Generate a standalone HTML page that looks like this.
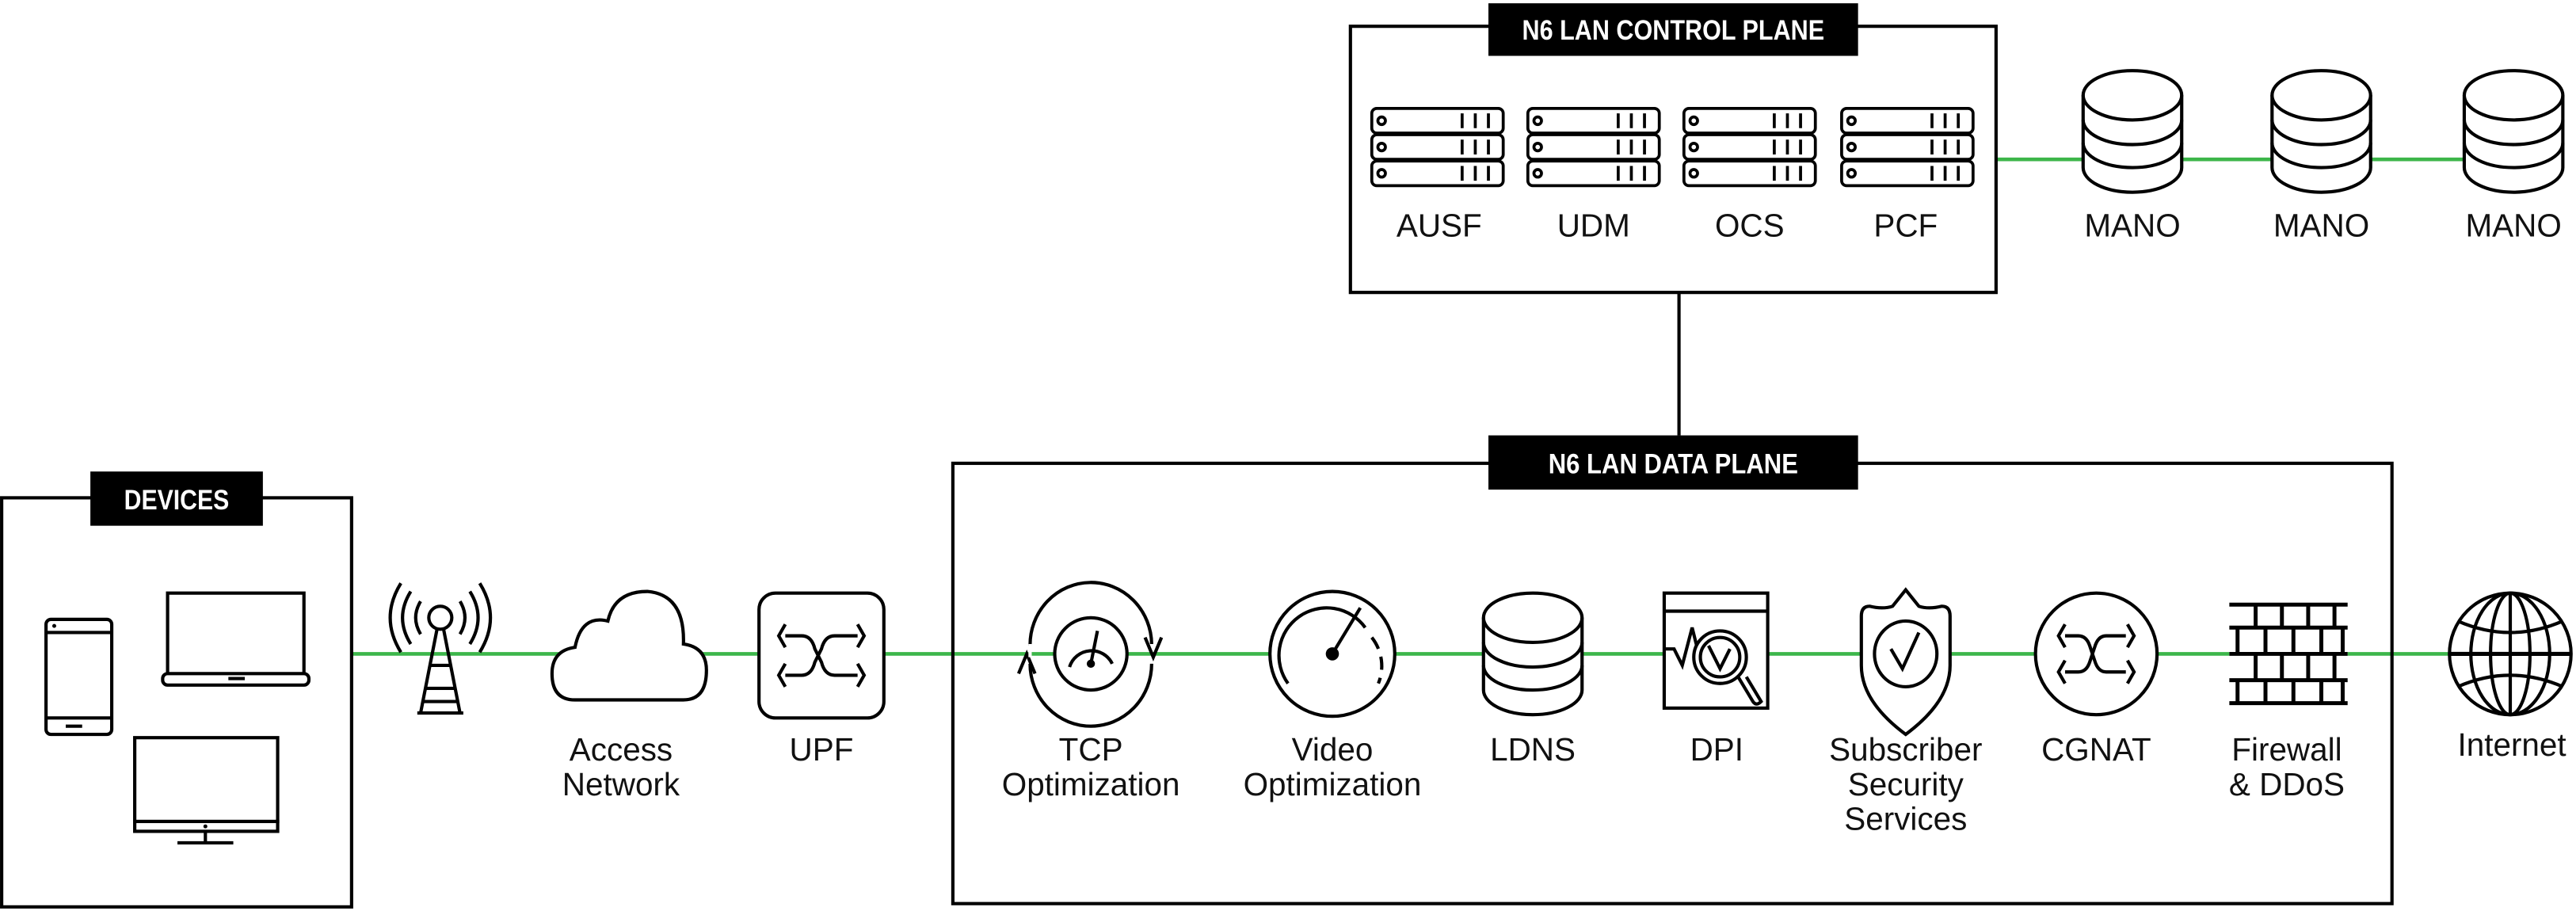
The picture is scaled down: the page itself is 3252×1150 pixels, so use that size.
<!DOCTYPE html>
<html><head><meta charset="utf-8"><style>
html,body{margin:0;padding:0;background:#fff;}
svg{display:block;}
text{font-family:"Liberation Sans",sans-serif;}
.lbl{font-size:19.5px;fill:#111;text-anchor:middle;}
.hdr{font-family:"Liberation Sans Narrow","Liberation Sans",sans-serif;font-weight:bold;font-size:17px;fill:#fff;text-anchor:middle;}
</style></head><body>
<svg width="3252" height="1150" viewBox="0 0 1568 554.5" xmlns="http://www.w3.org/2000/svg">
<defs>
<g id="srv" fill="none" stroke="#000" stroke-width="1.8">
  <rect x="0" y="0" width="80" height="15" rx="3"/>
  <rect x="0" y="16" width="80" height="15" rx="3"/>
  <rect x="0" y="32" width="80" height="15" rx="3"/>
  <circle cx="6" cy="7.5" r="2.3"/><circle cx="6" cy="23.5" r="2.3"/><circle cx="6" cy="39.5" r="2.3"/>
  <path d="M55 3v9M63 3v9M71 3v9M55 19v9M63 19v9M71 19v9M55 35v9M63 35v9M71 35v9"/>
</g>
<g id="db" fill="none" stroke="#000" stroke-width="2">
  <rect x="-30" y="0" width="60" height="59" fill="#fff" stroke="none"/>
  <ellipse cx="0" cy="0" rx="30" ry="15" fill="#fff"/>
  <path d="M-30 0 v44 A30 15 0 0 0 30 44 v-44"/>
  <path d="M-30 15 A30 15 0 0 0 30 15 M-30 29 A30 15 0 0 0 30 29"/>
</g>
</defs>

<g stroke="#3cb64a" stroke-width="2.2">
  <line x1="214" y1="398" x2="1492" y2="398"/>
  <line x1="1215" y1="97" x2="1500" y2="97"/>
</g>

<g fill="none" stroke="#000" stroke-width="2">
  <rect x="822" y="16" width="393" height="162"/>
  <rect x="580" y="282" width="876" height="268"/>
  <rect x="1" y="303" width="213" height="249"/>
  <line x1="1022" y1="178" x2="1022" y2="265"/>
</g>
<rect x="906" y="2" width="225" height="32" fill="#000"/>
<text class="hdr" x="1018.5" y="24" textLength="184" lengthAdjust="spacingAndGlyphs">N6 LAN CONTROL PLANE</text>
<rect x="906" y="265" width="225" height="33" fill="#000"/>
<text class="hdr" x="1018.5" y="288" textLength="152" lengthAdjust="spacingAndGlyphs">N6 LAN DATA PLANE</text>
<rect x="55" y="287" width="105" height="33" fill="#000"/>
<text class="hdr" x="107.5" y="310" textLength="64" lengthAdjust="spacingAndGlyphs">DEVICES</text>

<use href="#srv" x="835" y="66"/><use href="#srv" x="930" y="66"/>
<use href="#srv" x="1025" y="66"/><use href="#srv" x="1121" y="66"/>
<text class="lbl" x="876" y="144">AUSF</text>
<text class="lbl" x="970" y="144">UDM</text>
<text class="lbl" x="1065" y="144">OCS</text>
<text class="lbl" x="1160" y="144">PCF</text>

<use href="#db" x="1298" y="58"/><use href="#db" x="1413" y="58"/><use href="#db" x="1530" y="58"/>
<text class="lbl" x="1298" y="144">MANO</text>
<text class="lbl" x="1413" y="144">MANO</text>
<text class="lbl" x="1530" y="144">MANO</text>

<g fill="none" stroke="#000" stroke-width="2">
  <rect x="28" y="377" width="40" height="70" rx="3"/>
  <line x1="28" y1="385" x2="68" y2="385"/><line x1="28" y1="437" x2="68" y2="437"/>
  <line x1="40" y1="442" x2="50" y2="442"/>
  <rect x="102" y="361" width="83" height="51"/>
  <rect x="99" y="410" width="89" height="7" rx="3" fill="#fff"/>
  <line x1="139" y1="413" x2="149" y2="413"/>
  <rect x="82" y="449" width="87" height="51"/>
  <rect x="82" y="500" width="87" height="6" fill="#fff"/>
  <line x1="125" y1="506" x2="125" y2="513"/><line x1="108" y1="513" x2="142" y2="513"/>
</g>
<circle cx="125" cy="503" r="1.2"/>
<circle cx="33" cy="381" r="1.2"/>

<g fill="none" stroke="#000" stroke-width="2">
  <circle cx="268" cy="376" r="7" fill="#fff"/>
  <path d="M266 383 L256 434 M270 383 L280 434 M254 434 H282 M261 405h14 M259 419h18 M258 427h20"/>
  <path d="M256 366 q-6 10 0 20 M250 360 q-10 16 0 32 M244 355 q-13 21 0 42"/>
  <path d="M280 366 q6 10 0 20 M286 360 q10 16 0 32 M292 355 q13 21 0 42"/>
</g>

<path d="M350 426 h66 q14 0 14-18 q0-14-14-16 q1-30-22-32 q-20 0-24 18 q-16-4-20 16 q-14 2-14 16 q0 16 14 16 Z" fill="#fff" stroke="#000" stroke-width="2"/>
<text class="lbl" x="378" y="463">Access</text>
<text class="lbl" x="378" y="484">Network</text>

<rect x="462" y="361" width="76" height="76" rx="10" fill="#fff" stroke="#000" stroke-width="2"/>
<g fill="none" stroke="#000" stroke-width="2">
  <path d="M478 387 h10 q6 0 8 8 l4 8 q2 8 8 8 h14 M478 411 h10 q6 0 8-8 l4-8 q2-8 8-8 h14"/>
  <path d="M478 380 l-4 7 4 7 M478 404 l-4 7 4 7 M522 380 l4 7 -4 7 M522 404 l4 7 -4 7"/>
</g>
<text class="lbl" x="500" y="463">UPF</text>

<g fill="none" stroke="#000" stroke-width="2">
  <path d="M627 393 A37 38 0 0 1 701 392" fill="#fff"/>
  <path d="M701 404 A37 38 0 0 1 627 404"/>
  <circle cx="664" cy="398" r="22" fill="#fff"/>
  <path d="M651 406 a14 14 0 0 1 26 -2"/>
  <line x1="664" y1="404" x2="668" y2="384"/>
  <path d="M620 410 l5-12 5 12 M697 388 l5 12 5-12"/>
</g>
<rect x="626" y="392" width="2" height="8" fill="#fff"/>
<circle cx="664" cy="404" r="2.5"/>

<circle cx="811" cy="398" r="38" fill="#fff" stroke="#000" stroke-width="2"/>
<g fill="none" stroke="#000" stroke-width="2">
  <path d="M784 416 a28 28 0 0 1 47 -34"/><path d="M835 388 a28 28 0 0 1 4 28" stroke-dasharray="8 5"/>
  <line x1="811" y1="398" x2="828" y2="370"/>
</g>
<circle cx="811" cy="398" r="4"/>

<use href="#db" x="933" y="376"/>

<g fill="none" stroke="#000" stroke-width="2">
  <rect x="1013" y="361" width="63" height="70" fill="#fff"/>
  <line x1="1013" y1="372" x2="1076" y2="372"/>
  <path d="M1013 395 h6 l5 10 6-23 6 24"/>
  <circle cx="1047" cy="400" r="16" fill="#fff"/>
  <circle cx="1047" cy="400" r="12"/>
  <path d="M1040 393 l7 14 6-12"/>
  <path d="M1058 412 l9 15 q2 3 5 0 l-9-15"/>
</g>

<path d="M1160 359 l8 10 q6 2 14 0 q5 0 5 6 v30 q0 22-27 42 q-27-20-27-42 v-30 q0-6 5-6 q8 2 14 0 Z" fill="#fff" stroke="#000" stroke-width="2"/>
<ellipse cx="1160" cy="398" rx="19" ry="20" fill="none" stroke="#000" stroke-width="2"/>
<path d="M1151 395 l7 12 10-22" fill="none" stroke="#000" stroke-width="2"/>
<text class="lbl" x="1160" y="463">Subscriber</text>
<text class="lbl" x="1160" y="484">Security</text>
<text class="lbl" x="1160" y="505">Services</text>

<circle cx="1276" cy="398" r="37" fill="#fff" stroke="#000" stroke-width="2"/>
<g fill="none" stroke="#000" stroke-width="2">
  <path d="M1257 387 h8 q5 0 7 6 l3 9 q2 7 7 7 h12 M1257 409 h8 q5 0 7-6 l3-9 q2-7 7-7 h12"/>
  <path d="M1257 380 l-4 7 4 7 M1257 402 l-4 7 4 7 M1295 380 l4 7 -4 7 M1295 402 l4 7 -4 7"/>
</g>
<text class="lbl" x="1276" y="463">CGNAT</text>

<rect x="1357" y="368" width="72" height="64" fill="#fff"/>
<g fill="none" stroke="#000" stroke-width="2.4">
  <path d="M1357 368h72 M1357 382h72 M1357 398h72 M1357 414h72 M1357 428h72"/>
  <path d="M1373 368v14 M1389 368v14 M1405 368v14 M1421 368v14"/>
  <path d="M1362 382v16 M1379 382v16 M1396 382v16 M1413 382v16 M1426 382v16"/>
  <path d="M1373 398v16 M1389 398v16 M1405 398v16 M1421 398v16"/>
  <path d="M1362 414v14 M1379 414v14 M1396 414v14 M1413 414v14 M1426 414v14"/>
</g>
<text class="lbl" x="1392" y="463">Firewall</text>
<text class="lbl" x="1392" y="484">&amp; DDoS</text>

<g fill="none" stroke="#000" stroke-width="2">
  <circle cx="1528" cy="398" r="37" fill="#fff"/>
  <ellipse cx="1528" cy="398" rx="12" ry="37"/>
  <ellipse cx="1528" cy="398" rx="24" ry="37"/>
  <line x1="1528" y1="361" x2="1528" y2="435"/>
  <line x1="1491" y1="398" x2="1565" y2="398" stroke-width="2.5"/>
  <path d="M1496 378 q32 14 64 0 M1496 418 q32 -14 64 0"/>
</g>
<text class="lbl" x="1529" y="460">Internet</text>

<text class="lbl" x="664" y="463">TCP</text>
<text class="lbl" x="664" y="484">Optimization</text>
<text class="lbl" x="811" y="463">Video</text>
<text class="lbl" x="811" y="484">Optimization</text>
<text class="lbl" x="933" y="463">LDNS</text>
<text class="lbl" x="1045" y="463">DPI</text>
</svg>
</body></html>
